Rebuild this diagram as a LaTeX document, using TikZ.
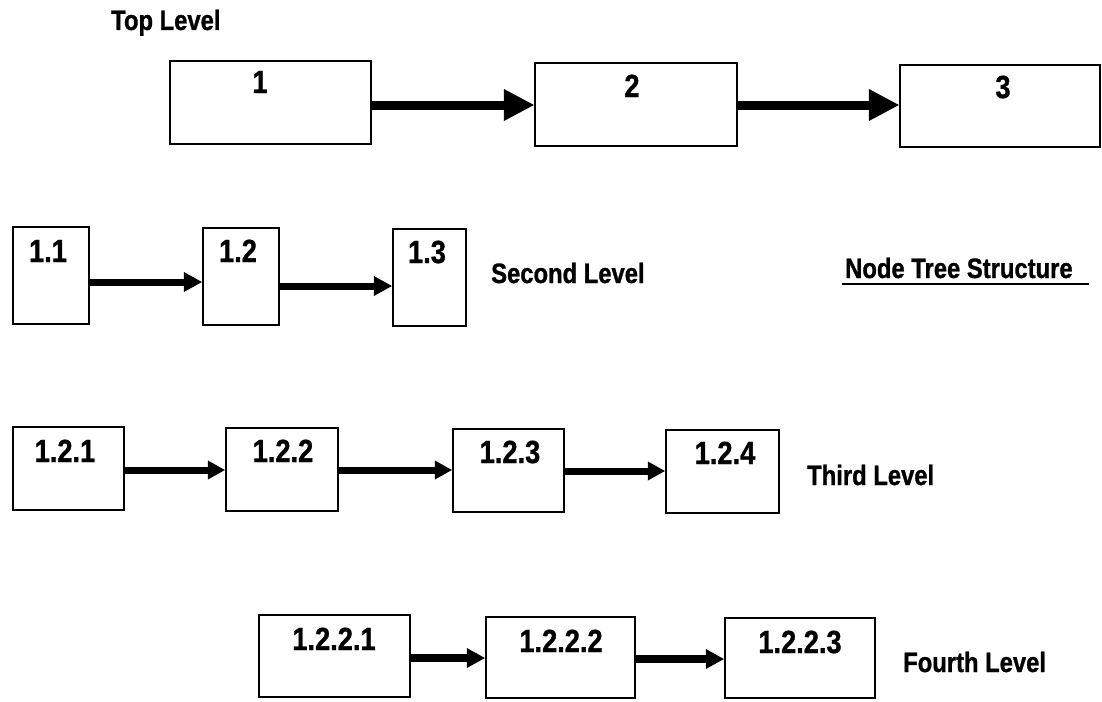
\documentclass[tikz,border=0pt]{standalone}
\usepackage{fontspec}
\setmainfont{Liberation Sans}[FakeStretch=0.85, BoldFeatures={FakeBold=1}]
\usetikzlibrary{arrows.meta}
\newcommand{\numf}{\fontsize{32}{32}\selectfont\bfseries}
\newcommand{\lblf}{\fontsize{28}{28}\selectfont\bfseries}
\tikzset{
  box/.style={draw, line width=2.2pt, inner sep=0pt, fill=white},
  num/.style={font=\numf, anchor=base, inner sep=0pt},
  lbl/.style={font=\lblf, anchor=base west, inner sep=0pt},
  arrA/.style={line width=9pt, -{Triangle[length=30pt,width=32pt,line width=0pt]}},
  arrB/.style={line width=7pt, -{Triangle[length=18pt,width=20pt,line width=0pt]}},
  arrC/.style={line width=7pt, -{Triangle[length=17pt,width=19pt,line width=0pt]}},
  arrD/.style={line width=8pt, -{Triangle[length=18pt,width=20pt,line width=0pt]}},
}
\begin{document}
\begin{tikzpicture}[x=1pt,y=-1pt]
\useasboundingbox (0,0) rectangle (1102,701);
% Top level
\node[lbl] (ltop) at (111,30) {Top Level};
\node[box, minimum width=201pt, minimum height=83pt] (b1) at (270.5,102.5) {};
\node[box, minimum width=202pt, minimum height=83pt] (b2) at (636,104.5) {};
\node[box, minimum width=200pt, minimum height=82pt] (b3) at (1000,106) {};
\node[num] (n1) at (260,93) {1};
\node[num] (n2) at (632,97) {2};
\node[num] (n3) at (1003,98) {3};
\draw[arrA] ([yshift=-2.5pt]b1.east) -- ([yshift=-2.5pt]b1.east -| b2.west);
\draw[arrA] ([yshift=-0.5pt]b2.east) -- ([yshift=-0.5pt]b2.east -| b3.west);
% Second level
\node[box, minimum width=76pt, minimum height=97pt] (b11) at (51,275.5) {};
\node[box, minimum width=76pt, minimum height=97pt] (b12) at (241,276.5) {};
\node[box, minimum width=73pt, minimum height=97pt] (b13) at (429.5,277.5) {};
\node[num] (n11) at (48,262) {1.1};
\node[num] (n12) at (238,262) {1.2};
\node[num] (n13) at (427,263) {1.3};
\draw[arrB] ([yshift=-6.5pt]b11.east) -- ([yshift=-6.5pt]b11.east -| b12.west);
\draw[arrB] ([yshift=-9.5pt]b12.east) -- ([yshift=-9.5pt]b12.east -| b13.west);
\node[lbl] (lsec) at (491,283) {Second Level};
\node[lbl] (lnts) at (845,278) {Node Tree Structure};
\draw[line width=2pt] ([xshift=-3pt,yshift=-6pt]lnts.base west) -- ([xshift=16pt,yshift=-6pt]lnts.base east);
% Third level
\node[box, minimum width=111pt, minimum height=83pt] (b121) at (68.5,468.5) {};
\node[box, minimum width=112pt, minimum height=83pt] (b122) at (282,469.5) {};
\node[box, minimum width=111pt, minimum height=83pt] (b123) at (508.5,470.5) {};
\node[box, minimum width=113pt, minimum height=83pt] (b124) at (722.5,471.5) {};
\node[num] (n121) at (65,462) {1.2.1};
\node[num] (n122) at (283,462) {1.2.2};
\node[num] (n123) at (510,463) {1.2.3};
\node[num] (n124) at (725,464) {1.2.4};
\draw[arrC] ([yshift=-1.5pt]b121.east) -- ([yshift=-1.5pt]b121.east -| b122.west);
\draw[arrC] ([yshift=-0.5pt]b122.east) -- ([yshift=-0.5pt]b122.east -| b123.west);
\draw[arrC] ([yshift=-0.5pt]b123.east) -- ([yshift=-0.5pt]b123.east -| b124.west);
\node[lbl] (lthird) at (807,485) {Third Level};
% Fourth level
\node[box, minimum width=151pt, minimum height=82pt] (b1221) at (334.5,656) {};
\node[box, minimum width=149pt, minimum height=81pt] (b1222) at (560.5,657.5) {};
\node[box, minimum width=150pt, minimum height=80pt] (b1223) at (800,658) {};
\node[num] (n1221) at (334,650) {1.2.2.1};
\node[num] (n1222) at (561,652) {1.2.2.2};
\node[num] (n1223) at (800,653) {1.2.2.3};
\draw[arrD] ([yshift=-2pt]b1221.east) -- ([yshift=-2pt]b1221.east -| b1222.west);
\draw[arrD] ([yshift=-1.5pt]b1222.east) -- ([yshift=-1.5pt]b1222.east -| b1223.west);
\node[lbl] (lfourth) at (903,672) {Fourth Level};
\end{tikzpicture}
\end{document}
